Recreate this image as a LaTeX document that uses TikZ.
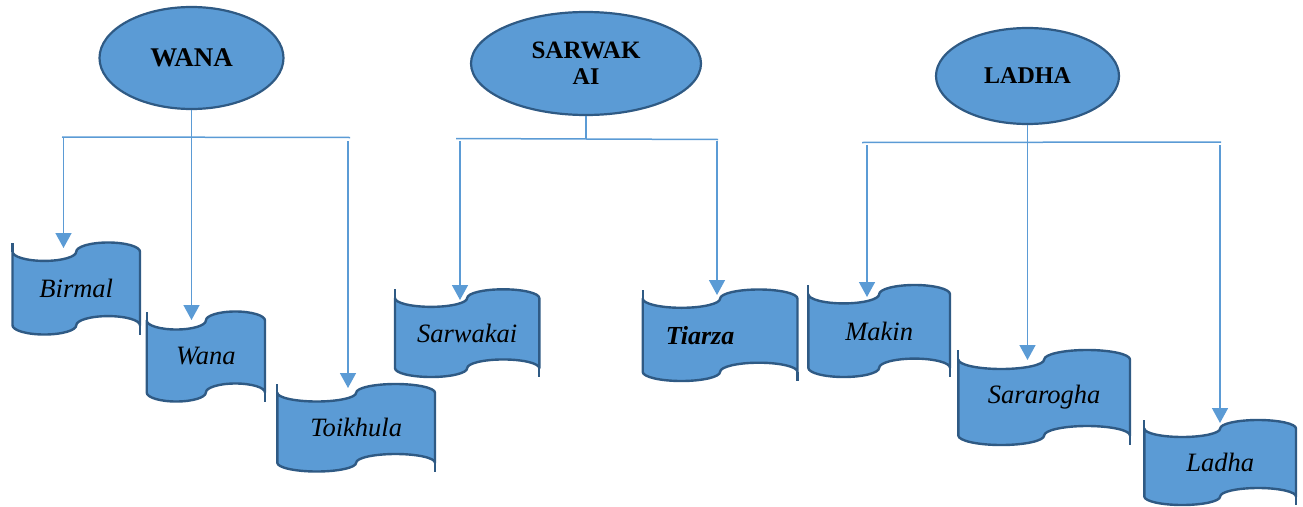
\documentclass[tikz,border=0pt]{standalone}
\usepackage{fontspec}
\setmainfont{Liberation Serif}
\usetikzlibrary{shapes.geometric,arrows.meta}
\definecolor{fillblue}{HTML}{5B9BD5}
\definecolor{edgeblue}{HTML}{2F5A84}
\definecolor{connblue}{HTML}{5B9BD5}
\tikzset{
  hdr/.style={ellipse, draw=edgeblue, line width=2.2pt, fill=fillblue, inner sep=0pt,
    font=\fontsize{24}{26}\selectfont\bfseries, align=center},
  tapeshape/.style={draw=edgeblue, line width=2.4pt, fill=fillblue, line join=round},
  horn/.style={draw=edgeblue, line width=2.2pt},
  tapetext/.style={font=\fontsize{26.5}{28}\selectfont\itshape, inner sep=0pt},
  conn/.style={draw=connblue, line width=1.5pt},
  arr/.style={conn, -{Triangle[length=15pt,width=16pt]}},
}
\newcommand\tape[7][]{%
  \pgfmathsetmacro\tqw{(#5-#3)/4}%
  \pgfmathsetmacro\ta{(#6-#4)/10}%
  \pgfmathsetmacro\tyA{-(#4)-\ta}%
  \pgfmathsetmacro\tyB{-(#6)+\ta}%
  \path[tapeshape] (#3,\tyA)
    arc[start angle=180,end angle=360,x radius=\tqw pt,y radius=\ta pt]
    arc[start angle=180,end angle=0,x radius=\tqw pt,y radius=\ta pt]
    -- (#5,\tyB)
    arc[start angle=0,end angle=180,x radius=\tqw pt,y radius=\ta pt]
    arc[start angle=0,end angle=-180,x radius=\tqw pt,y radius=\ta pt]
    -- cycle;
  \draw[horn] (#3,\tyA) -- ++(0,\ta);
  \draw[horn] (#5,\tyB) -- ++(0,-\ta);
  \node[tapetext,#1] (#2) at ({(#3+#5)/2},{-(#4+#6)/2}) {#7};
}
\begin{document}
\begin{tikzpicture}[x=1pt,y=1pt]
\useasboundingbox (0,0) rectangle (1303,-506);

% header ellipses
\node[hdr, minimum width=184pt, minimum height=102pt] (wana) at (191.5,-58) {\fontsize{27}{30}\selectfont WANA};
\node[hdr, minimum width=230pt, minimum height=103pt] (sarwakai) at (586,-63.5) {\fontsize{25}{26}\selectfont SARWAK\\AI};
\node[hdr, minimum width=183pt, minimum height=96pt] (ladha) at (1027.5,-76) {LADHA};

% tapes
\tape{birmal}{12.5}{242.5}{140}{334.5}{Birmal}
\tape{wanat}{146.7}{311.5}{265}{401.5}{Wana}
\tape{toikhula}{277.3}{384}{435}{471.5}{Toikhula}
\tape{sarwakait}{395}{289.3}{539.3}{377}{Sarwakai}
\tape[font=\fontsize{26}{28}\selectfont\bfseries\itshape, xshift=-20pt]{tiarza}{642.7}{289.5}{797.5}{381}{Tiarza}
\tape{makin}{808.3}{285}{950}{377}{Makin}
\tape{sararogha}{958.3}{350}{1130}{445}{Sararogha}
\tape{ladhat}{1144.3}{420}{1296}{505}{Ladha}

% WANA connectors
\coordinate (wbL) at (62,-137);
\coordinate (wbR) at (350,-137.5);
\coordinate (wL) at (63.5,-137);
\coordinate (wR) at (348,-141);
\coordinate (tBirmal) at (63.5,-248);
\coordinate (tWana) at (191.5,-320);
\coordinate (tToik) at (348,-388);
\draw[conn] (wbL) -- (wbR);
\draw[arr] (wL) -- (tBirmal);
\draw[arr] (wana.south) -- (tWana);
\draw[arr] (wR) -- (tToik);

% SARWAKAI connectors
\coordinate (sbL) at (456,-138.5);
\coordinate (sbR) at (718,-139.5);
\coordinate (sStem) at (586,-138.9);
\coordinate (sL) at (460,-141);
\coordinate (sR) at (717,-141);
\coordinate (tSarw) at (460,-300);
\coordinate (tTiar) at (717,-295);
\draw[conn] (sbL) -- (sbR);
\draw[conn] (sarwakai.south) -- (sStem);
\draw[arr] (sL) -- (tSarw);
\draw[arr] (sR) -- (tTiar);

% LADHA connectors
\coordinate (lbL) at (862,-142.5);
\coordinate (lbR) at (1221,-142);
\coordinate (lL) at (867,-145);
\coordinate (lR) at (1220,-145);
\coordinate (tMakin) at (867,-297);
\coordinate (tSara) at (1027.5,-360);
\coordinate (tLadha) at (1220,-423);
\draw[conn] (lbL) -- (lbR);
\draw[arr] (lL) -- (tMakin);
\draw[arr] (ladha.south) -- (tSara);
\draw[arr] (lR) -- (tLadha);
\end{tikzpicture}
\end{document}
